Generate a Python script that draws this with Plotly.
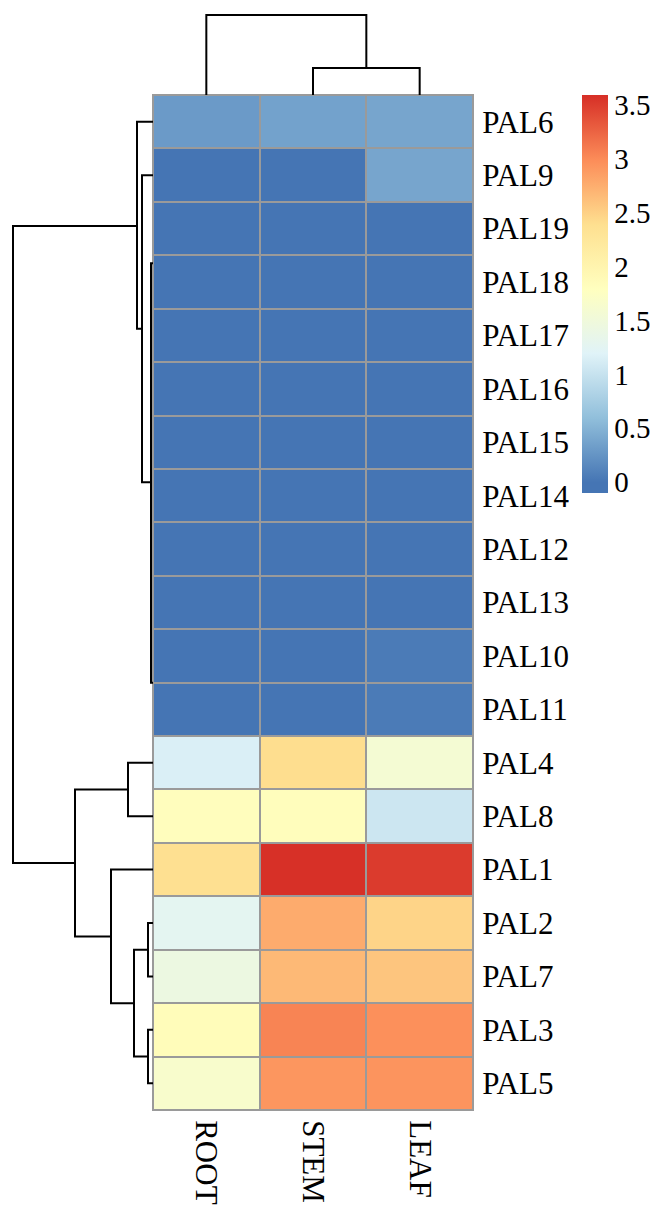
import plotly.graph_objects as go

# ---------------- data ----------------
col_labels = ["ROOT", "STEM", "LEAF"]
row_labels = ["PAL6", "PAL9", "PAL19", "PAL18", "PAL17", "PAL16", "PAL15", "PAL14",
              "PAL12", "PAL13", "PAL10", "PAL11", "PAL4", "PAL8", "PAL1", "PAL2",
              "PAL7", "PAL3", "PAL5"]
root_vals = [0.30, 0.00, 0.00, 0.00, 0.00, 0.00, 0.00, 0.00, 0.00, 0.00, 0.00, 0.00,
             1.15, 1.82, 2.38, 1.27, 1.43, 1.85, 1.65]
stem_vals = [0.36, 0.00, 0.00, 0.00, 0.00, 0.00, 0.00, 0.00, 0.00, 0.00, 0.00, 0.00,
             2.40, 1.83, 3.58, 2.77, 2.67, 3.04, 2.92]
leaf_vals = [0.39, 0.39, 0.00, 0.00, 0.00, 0.00, 0.00, 0.00, 0.00, 0.00, 0.05, 0.05,
             1.58, 1.04, 3.51, 2.47, 2.58, 2.96, 2.93]
cbar_ticks = [0, 0.5, 1, 1.5, 2, 2.5, 3, 3.5]
cbar_ticktext = ["0", "0.5", "1", "1.5", "2", "2.5", "3", "3.5"]

# row dendrogram links (positions in row-index units, heights in distance units)
row_link_pos_left = [1.95, 0, 1, 2.65, 12.5, 12, 14, 15.5, 15, 17]
row_link_h_left = [1.6, 0, 0, 0, 2.5, 0, 0, 0.5, 0, 0]
row_link_pos_right = [13.875, 3.875, 6.75, 10.5, 15.25, 13, 16.5, 17.5, 16, 18]
row_link_h_right = [7.8, 1.1, 0.2, 0, 4.2, 0, 1.9, 0.5, 0, 0]
row_link_height = [14.0, 1.6, 1.1, 0.2, 7.8, 2.5, 4.2, 1.9, 0.5, 0.5]

# column dendrogram links
col_link_pos_left = [0, 1]
col_link_h_left = [0, 0]
col_link_pos_right = [1.5, 2]
col_link_h_right = [2.7, 0]
col_link_height = [8.0, 2.7]

# ---------------- styling / layout constants ----------------
OFF = 8                      # page body margin of the HTML
W, H = 662 - OFF, 1205 - OFF

def fx(px):
    return (px - OFF) / W

def fy(py):
    return 1 - (py - OFF) / H

hm_x0, hm_x1 = 153, 473
hm_y0, hm_y1 = 95, 1110
FONT = "Liberation Serif, Times New Roman, DejaVu Serif, serif"
GRID = "#9A9A9A"
zmin, zmax = -0.1, 3.59
data_max = 3.58
rdylbu = ["#4575B4", "#91BFDB", "#E0F3F8", "#FFFFBF", "#FEE090", "#FC8D59", "#D73027"]

def frac(v):
    return (v - zmin) / (zmax - zmin)

colorscale = [[0.0, rdylbu[0]]]
for k, c in enumerate(rdylbu):
    colorscale.append([frac(data_max * k / 6), c])
colorscale.append([1.0, rdylbu[-1]])

z = [[root_vals[i], stem_vals[i], leaf_vals[i]] for i in range(len(row_labels))]

fig = go.Figure()

fig.add_trace(go.Heatmap(
    z=z, x=list(range(len(col_labels))), y=list(range(len(row_labels))),
    colorscale=colorscale, zmin=zmin, zmax=zmax,
    xgap=2, ygap=2, hoverinfo="skip",
    colorbar=dict(
        x=fx(582), xanchor="left", xpad=0,
        y=fy(95), yanchor="top", ypad=0,
        len=398 / H, lenmode="fraction",
        thickness=26, thicknessmode="pixels",
        outlinewidth=0, ticks="",
        tickvals=cbar_ticks, ticktext=cbar_ticktext,
        tickfont=dict(family=FONT, size=29, color="black"),
    ),
))

# row dendrogram
rx, ry = [], []
for pl, hl, pr, hr, h in zip(row_link_pos_left, row_link_h_left, row_link_pos_right,
                             row_link_h_right, row_link_height):
    rx += [hl, h, h, hr, None]
    ry += [pl, pl, pr, pr, None]
fig.add_trace(go.Scatter(x=rx, y=ry, mode="lines", xaxis="x2", yaxis="y2",
                         line=dict(color="black", width=2), hoverinfo="skip",
                         showlegend=False, cliponaxis=False))

# column dendrogram
cx, cy = [], []
for pl, hl, pr, hr, h in zip(col_link_pos_left, col_link_h_left, col_link_pos_right,
                             col_link_h_right, col_link_height):
    cx += [pl, pl, pr, pr, None]
    cy += [hl, h, h, hr, None]
fig.add_trace(go.Scatter(x=cx, y=cy, mode="lines", xaxis="x3", yaxis="y3",
                         line=dict(color="black", width=2), hoverinfo="skip",
                         showlegend=False, cliponaxis=False))

xdom = [fx(hm_x0), fx(hm_x1)]
ydom = [fy(hm_y1), fy(hm_y0)]
hidden = dict(showgrid=False, zeroline=False, showticklabels=False, ticks="", showline=False)

# grey cell-border background behind the heatmap only
fig.add_shape(type="rect", xref="x domain", yref="y domain", x0=0, x1=1, y0=0, y1=1,
              fillcolor=GRID, line=dict(width=0), layer="below")

fig.update_layout(
    width=W, height=H,
    margin=dict(l=0, r=0, t=0, b=0, autoexpand=False),
    paper_bgcolor="white", plot_bgcolor="white",
    showlegend=False,
    xaxis=dict(domain=xdom, range=[-0.5, 2.5], tickvals=[0, 1, 2], ticktext=col_labels,
               tickangle=90, ticks="", showgrid=False, zeroline=False,
               showline=True, mirror=True, linecolor=GRID, linewidth=1,
               tickfont=dict(family=FONT, size=31, color="black"),
               ticklabelstandoff=3, anchor="y"),
    yaxis=dict(domain=ydom, range=[18.5, -0.5], tickvals=list(range(len(row_labels))),
               ticktext=row_labels, side="right", ticks="", showgrid=False, zeroline=False,
               showline=True, mirror=True, linecolor=GRID, linewidth=1,
               tickfont=dict(family=FONT, size=31, color="black"),
               ticklabelstandoff=2, anchor="x"),
    xaxis2=dict(domain=[0, fx(hm_x0)], range=[(hm_x0 - OFF) / 10, 0], anchor="y2", **hidden),
    yaxis2=dict(domain=ydom, range=[18.5, -0.5], anchor="x2", **hidden),
    xaxis3=dict(domain=xdom, range=[-0.5, 2.5], anchor="y3", **hidden),
    yaxis3=dict(domain=[fy(hm_y0), 1], range=[0, (hm_y0 - OFF) / 10], anchor="x3", **hidden),
)

fig.write_html("out.html")
